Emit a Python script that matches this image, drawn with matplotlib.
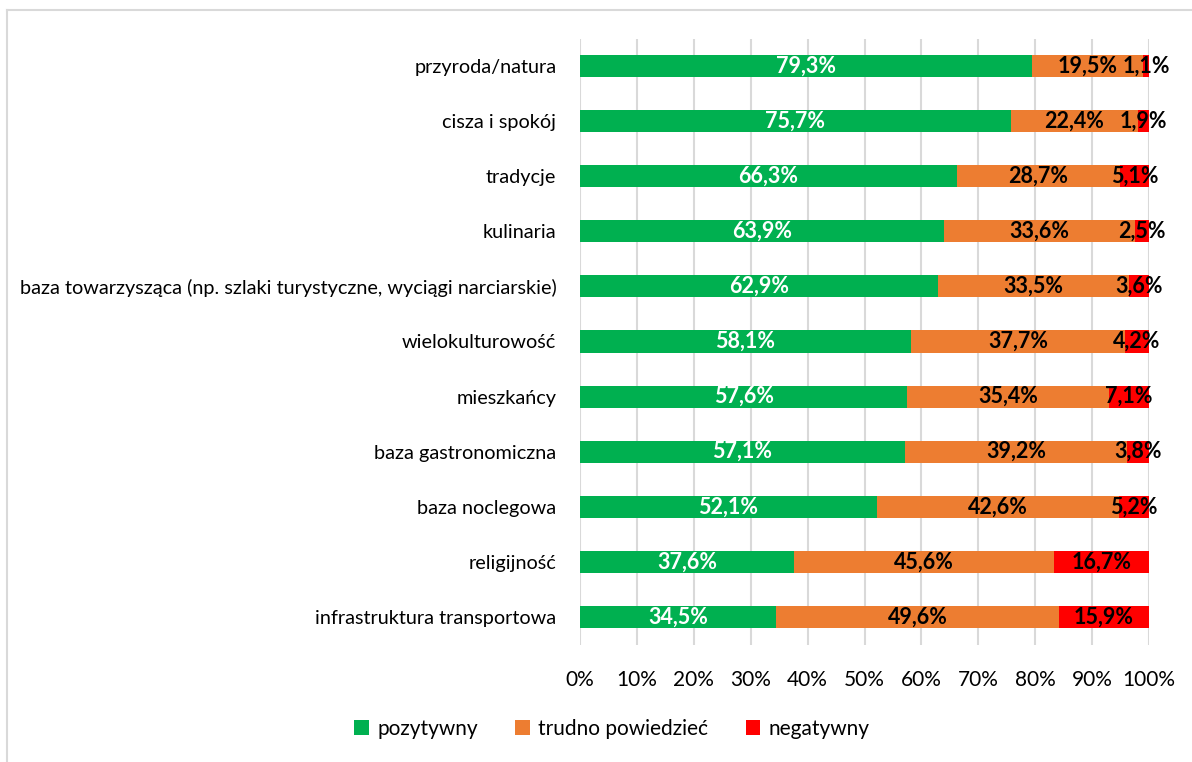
import numpy as np
import matplotlib.pyplot as plt
from matplotlib.lines import Line2D

plt.rcParams['font.family'] = ['Lato', 'DejaVu Sans']

kategorie = ["przyroda/natura", "cisza i spokój", "tradycje", "kulinaria",
             "baza towarzysząca (np. szlaki turystyczne, wyciągi narciarskie)",
             "wielokulturowość", "mieszkańcy", "baza gastronomiczna",
             "baza noclegowa", "religijność", "infrastruktura transportowa"]
pozytywny = [79.3, 75.7, 66.3, 63.9, 62.9, 58.1, 57.6, 57.1, 52.1, 37.6, 34.5]
trudno = [19.5, 22.4, 28.7, 33.6, 33.5, 37.7, 35.4, 39.2, 42.6, 45.6, 49.6]
negatywny = [1.1, 1.9, 5.1, 2.5, 3.6, 4.2, 7.1, 3.8, 5.2, 16.7, 15.9]

serie = [("pozytywny", pozytywny, "#00B050", "white"),
         ("trudno powiedzieć", trudno, "#ED7D31", "black"),
         ("negatywny", negatywny, "#FF0000", "black")]

suma = np.array(pozytywny) + np.array(trudno) + np.array(negatywny)
y = np.arange(len(kategorie))

fig = plt.figure(figsize=(11.92, 7.62), dpi=100)
ax = fig.add_axes([580 / 1192, 1 - 644.5 / 762, 569 / 1192, 606 / 762])

lewo = np.zeros(len(kategorie))
for nazwa, wart, kolor, kol_tekst in serie:
    w = np.array(wart) / suma * 100
    ax.barh(y, w, left=lewo, height=0.4, color=kolor, label=nazwa, zorder=3)
    for yi, l, wi, v in zip(y, lewo, w, wart):
        ax.text(l + wi / 2, yi, f"{v:.1f}%".replace(".", ","), ha="center", va="center",
                color=kol_tekst, fontsize=15.5, fontweight="bold", zorder=4)
    lewo += w

ax.set_xlim(0, 100)
ax.set_ylim(len(kategorie) - 0.5, -0.5)
ax.set_yticks(y)
ax.set_yticklabels(kategorie, fontsize=14.3)
ax.set_xticks(np.arange(0, 101, 10))
ax.set_xticklabels([f"{v}%" for v in range(0, 101, 10)], fontsize=15)
ax.tick_params(axis="y", length=0, pad=17)
ax.tick_params(axis="x", length=0, pad=18)
ax.grid(axis="x", color="#D9D9D9", linewidth=1.5, zorder=0)
for s in ax.spines.values():
    s.set_visible(False)

ax.legend(loc="center", bbox_to_anchor=(612 / 1192, 1 - 729 / 762),
          bbox_transform=fig.transFigure, ncol=3, frameon=False, fontsize=15,
          handlelength=0.7, handleheight=0.7, handletextpad=0.4, columnspacing=1.8)

# ramka wykresu (lewa i górna krawędź)
fig.add_artist(Line2D([7 / 1192, 7 / 1192], [0, 1 - 10 / 762], transform=fig.transFigure,
                      color="#D9D9D9", linewidth=1.5))
fig.add_artist(Line2D([7 / 1192, 1], [1 - 10 / 762, 1 - 10 / 762], transform=fig.transFigure,
                      color="#D9D9D9", linewidth=1.5))

fig.savefig("out.png", dpi=100)
